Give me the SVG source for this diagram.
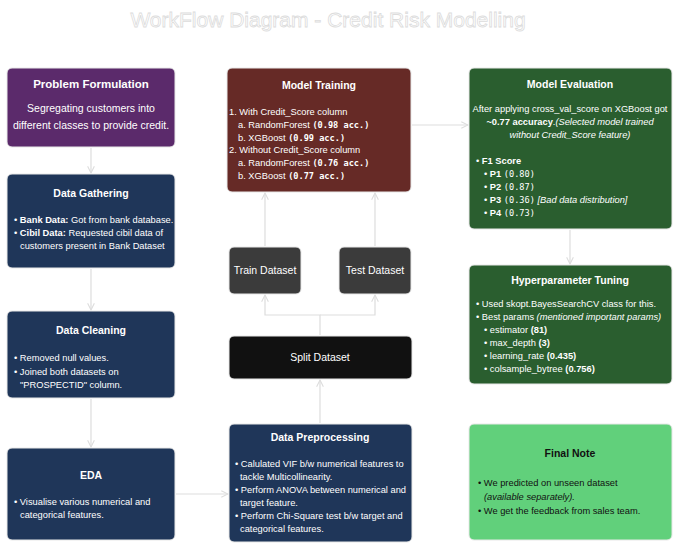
<svg xmlns="http://www.w3.org/2000/svg" width="679" height="550" viewBox="0 0 679 550">
<style>
text{font-family:"Liberation Sans",Arial,sans-serif;fill:#fff;font-size:9.3px}
.t{font-size:10.5px;font-weight:bold;text-anchor:middle}
.c{text-anchor:middle}
.m{font-family:"DejaVu Sans Mono",monospace;font-size:8.6px;font-weight:bold}
.b{font-weight:bold}
.i{font-style:italic}
.box{stroke:#e8e8e8;stroke-width:1}
.e{stroke:#dddddd;stroke-width:1.2;fill:none;marker-end:url(#a)}
</style>
<defs><marker id="a" viewBox="0 0 10 10" refX="9" refY="5" markerWidth="7" markerHeight="7" orient="auto"><path d="M1,1 L9,5 L1,9" fill="none" stroke="#dddddd" stroke-width="1.3"/></marker></defs>
<rect width="679" height="550" fill="#fff"/>
<text x="328" y="27" text-anchor="middle" style="font-size:21px;fill:#fff;stroke:#dcdcdc;stroke-width:0.8">WorkFlow Diagram - Credit Risk Modelling</text>
<g id="edges">
<path class="e" d="M91,148 V173"/>
<path class="e" d="M91,269 V310"/>
<path class="e" d="M91,399 V447"/>
<path class="e" d="M176,494 H228"/>
<path class="e" d="M320,423 V380"/>
<path class="e" d="M320,335 V315 H265 V295"/>
<path class="e" d="M320,315 H375 V295"/>
<path class="e" d="M265,246 V193"/>
<path class="e" d="M375,246 V193"/>
<path class="e" d="M412,125 H468"/>
<path class="e" d="M570,230 V264"/>
</g>
<g id="problem"><rect class="box" x="7" y="68" width="168" height="79" rx="5" fill="#5b2a6b"/>
<text class="t" x="91" y="88" style="font-size:11.5px">Problem Formulation</text>
<text class="c" x="91" y="112" style="font-size:10.5px">Segregating customers into</text>
<text class="c" x="91" y="129" style="font-size:10.5px">different classes to provide credit.</text></g>
<g id="gathering"><rect class="box" x="7" y="174" width="168" height="94" rx="5" fill="#1f3659"/>
<text class="t" x="91" y="197">Data Gathering</text>
<text x="14" y="223">• <tspan class="b">Bank Data:</tspan> Got from bank database.</text>
<text x="14" y="236">• <tspan class="b">Cibil Data:</tspan> Requested cibil data of</text>
<text x="20" y="249">customers present in Bank Dataset</text></g>
<g id="cleaning"><rect class="box" x="7" y="311" width="168" height="87" rx="5" fill="#1f3659"/>
<text class="t" x="91" y="334">Data Cleaning</text>
<text x="14" y="361">• Removed null values.</text>
<text x="14" y="375">• Joined both datasets on</text>
<text x="20" y="388">"PROSPECTID" column.</text></g>
<g id="eda"><rect class="box" x="7" y="448" width="168" height="92" rx="5" fill="#1f3659"/>
<text class="t" x="91" y="479">EDA</text>
<text x="14" y="505">• Visualise various numerical and</text>
<text x="20" y="518">categorical features.</text></g>
<g id="training"><rect class="box" x="227" y="68" width="184" height="124" rx="5" fill="#662a26"/>
<text class="t" x="319" y="89">Model Training</text>
<text x="229" y="115">1. With Credit_Score column</text>
<text x="238" y="128">a. RandomForest <tspan class="m">(0.98 acc.)</tspan></text>
<text x="238" y="141">b. XGBoost <tspan class="m">(0.99 acc.)</tspan></text>
<text x="229" y="153">2. Without Credit_Score column</text>
<text x="238" y="166">a. RandomForest <tspan class="m">(0.76 acc.)</tspan></text>
<text x="238" y="179">b. XGBoost <tspan class="m">(0.77 acc.)</tspan></text></g>
<g id="train"><rect class="box" x="229" y="247" width="72" height="47" rx="5" fill="#3b3b3b"/>
<text class="c" x="265" y="274" style="font-size:10.5px">Train Dataset</text></g>
<g id="test"><rect class="box" x="339" y="247" width="72" height="47" rx="5" fill="#3b3b3b"/>
<text class="c" x="375" y="274" style="font-size:10.5px">Test Dataset</text></g>
<g id="split"><rect class="box" x="229" y="336" width="183" height="43" rx="5" fill="#111"/>
<text class="t" x="320" y="361" style="font-weight:normal">Split Dataset</text></g>
<g id="preprocessing"><rect class="box" x="229" y="424" width="183" height="118" rx="5" fill="#1f3659"/>
<text class="t" x="320" y="441">Data Preprocessing</text>
<text x="235" y="467">• Calulated VIF b/w numerical features to</text>
<text x="240" y="480">tackle Multicollinearity.</text>
<text x="235" y="493">• Perform ANOVA between numerical and</text>
<text x="240" y="506">target feature.</text>
<text x="235" y="519">• Perform Chi-Square test b/w target and</text>
<text x="240" y="532">categorical features.</text></g>
<g id="evaluation"><rect class="box" x="469" y="68" width="203" height="161" rx="5" fill="#2a5e2f"/>
<text class="t" x="570" y="88">Model Evaluation</text>
<text class="c" x="570" y="112">After applying cross_val_score on XGBoost got</text>
<text class="c" x="570" y="125"><tspan class="b">~0.77 accuracy</tspan>.<tspan class="i">(Selected model trained</tspan></text>
<text class="c i" x="570" y="138">without Credit_Score feature)</text>
<text x="476" y="164">• <tspan class="b">F1 Score</tspan></text>
<text x="484" y="177">• <tspan class="b">P1</tspan> <tspan class="m" style="font-weight:normal">(0.80)</tspan></text>
<text x="484" y="190">• <tspan class="b">P2</tspan> <tspan class="m" style="font-weight:normal">(0.87)</tspan></text>
<text x="484" y="203">• <tspan class="b">P3</tspan> <tspan class="m" style="font-weight:normal">(0.36)</tspan> <tspan class="i">[Bad data distribution]</tspan></text>
<text x="484" y="216">• <tspan class="b">P4</tspan> <tspan class="m" style="font-weight:normal">(0.73)</tspan></text></g>
<g id="tuning"><rect class="box" x="469" y="265" width="203" height="119" rx="5" fill="#2a5e2f"/>
<text class="t" x="570" y="284">Hyperparameter Tuning</text>
<text x="476" y="307">• Used skopt.BayesSearchCV class for this.</text>
<text x="476" y="320">• Best params <tspan class="i">(mentioned important params)</tspan></text>
<text x="484" y="333">• estimator <tspan class="b">(81)</tspan></text>
<text x="484" y="346">• max_depth <tspan class="b">(3)</tspan></text>
<text x="484" y="359">• learning_rate <tspan class="b">(0.435)</tspan></text>
<text x="484" y="372">• colsample_bytree <tspan class="b">(0.756)</tspan></text></g>
<g id="finalnote"><rect class="box" x="469" y="424" width="203" height="116" rx="5" fill="#61d07b"/>
<text class="t" x="570" y="457" style="fill:#111">Final Note</text>
<text x="478" y="486" style="fill:#111">• We predicted on unseen dataset</text>
<text class="i" x="484" y="500" style="fill:#111">(available separately).</text>
<text x="478" y="514" style="fill:#111">• We get the feedback from sales team.</text></g>
</svg>
